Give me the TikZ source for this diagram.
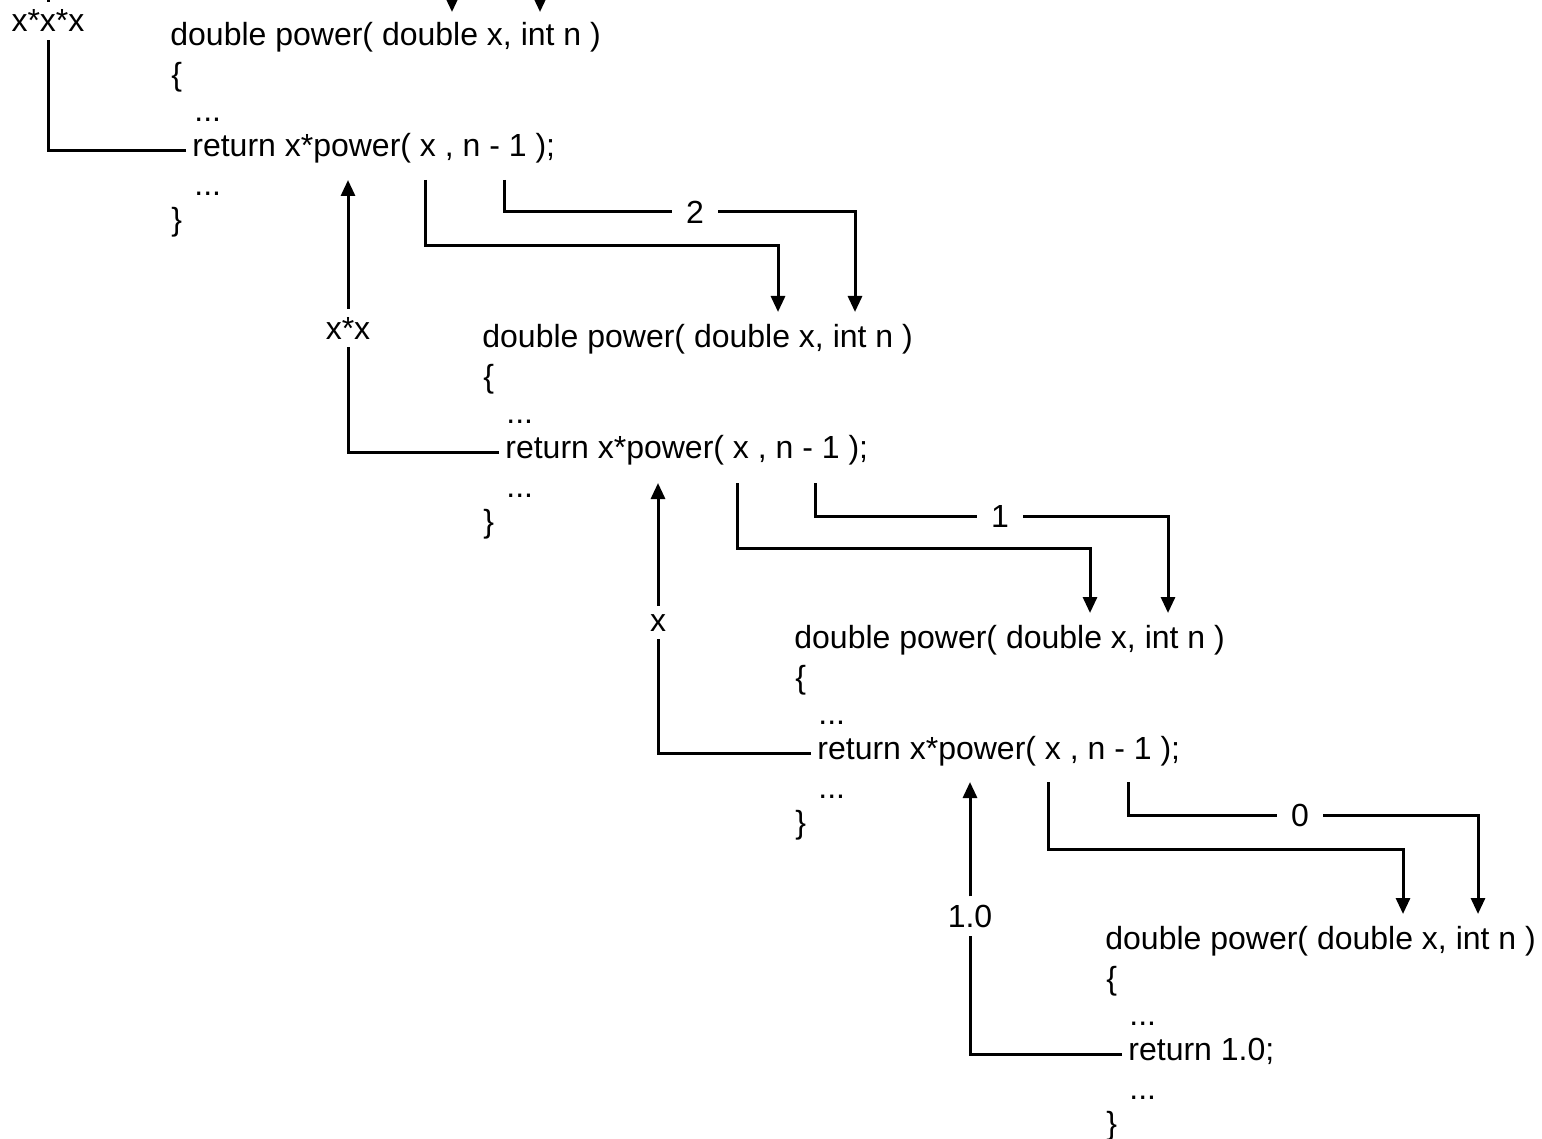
\documentclass[tikz,border=0pt]{standalone}
\usepackage{fontspec}
\setmainfont{Liberation Sans}
\usetikzlibrary{arrows.meta,calc}
\begin{document}
\begin{tikzpicture}[x=0.5pt,y=-0.5pt,
  code/.style={anchor=base west,inner sep=0pt,font=\fontsize{16}{19}\selectfont},
  val/.style={anchor=base,inner xsep=2pt,inner ysep=4pt,font=\fontsize{16}{19}\selectfont},
  num/.style={inner xsep=7pt,inner ysep=0pt,font=\fontsize{16}{19}\selectfont},
  wire/.style={line width=1.5pt},
  arr/.style={wire,-{Triangle[length=8pt,width=7pt]}}]
\useasboundingbox (0,0) rectangle (1542,1139);

% ---- code blocks ----
\foreach \k/\hx/\H in {1/170/46, 2/482/347, 3/794/648, 4/1105/949} {
  \node[code] (h\k)  at (\hx,\H)        {double power( double x, int n )};
  \node[code] (ob\k) at (\hx+1,\H+40)   {\{};
  \node[code] (da\k) at (\hx+24,\H+76)  {...};
  \node[code] (db\k) at (\hx+24,\H+150) {...};
  \node[code] (cb\k) at (\hx+1,\H+185)  {\}};
}
\node[code] (r1) at (192,157)  {return x*power( x , n - 1 );};
\node[code] (r2) at (505,458)  {return x*power( x , n - 1 );};
\node[code] (r3) at (817,759)  {return x*power( x , n - 1 );};
\node[code] (r4) at (1128,1060) {return 1.0;};

% ---- returned values ----
\node[val] (v1) at (48,32)   {x*x*x};
\node[val] (v2) at (348,339) {x*x};
\node[val] (v3) at (658,631) {x};
\node[val] (v4) at (970,927) {1.0};

\coordinate (top0) at (48,0);
\coordinate (t1) at (348,180);
\coordinate (t2) at (658,483);
\coordinate (t3) at (970,782);

\draw[wire] ($(r1.base west)+(-6,-6)$) -| (v1.south);
\draw[wire] (v1.north) -- (top0);
\draw[wire] ($(r2.base west)+(-6,-6)$) -| (v2.south);
\draw[arr]  (v2.north) -- (t1);
\draw[wire] ($(r3.base west)+(-6,-6)$) -| (v3.south);
\draw[arr]  (v3.north) -- (t2);
\draw[wire] ($(r4.base west)+(-6,-6)$) -| (v4.south);
\draw[arr]  (v4.north) -- (t3);

% ---- arguments passed down ----
\coordinate (fx0) at (452,0);
\coordinate (fn0) at (540,0);
\coordinate (tx1) at (452,12);
\coordinate (tn1) at (540,12);
\draw[arr] (fx0) -- (tx1);
\draw[arr] (fn0) -- (tn1);

\coordinate (sx1) at (425,180);  \coordinate (cx1) at (425,246);
\coordinate (sn1) at (504,180);
\coordinate (tx2) at (778,312);  \coordinate (tn2) at (855,312);
\node[num] (n1) at (695,212) {2};
\draw[arr]  (sx1) -- (cx1) -| (tx2);
\draw[wire] (sn1) |- (n1.west);
\draw[arr]  (n1.east) -| (tn2);

\coordinate (sx2) at (737,483);  \coordinate (cx2) at (737,548);
\coordinate (sn2) at (815,483);
\coordinate (tx3) at (1090,613); \coordinate (tn3) at (1168,613);
\node[num] (n2) at (1000,516) {1};
\draw[arr]  (sx2) -- (cx2) -| (tx3);
\draw[wire] (sn2) |- (n2.west);
\draw[arr]  (n2.east) -| (tn3);

\coordinate (sx3) at (1048,782); \coordinate (cx3) at (1048,849);
\coordinate (sn3) at (1128,782);
\coordinate (tx4) at (1403,914); \coordinate (tn4) at (1478,914);
\node[num] (n3) at (1300,815) {0};
\draw[arr]  (sx3) -- (cx3) -| (tx4);
\draw[wire] (sn3) |- (n3.west);
\draw[arr]  (n3.east) -| (tn4);
\end{tikzpicture}
\end{document}
